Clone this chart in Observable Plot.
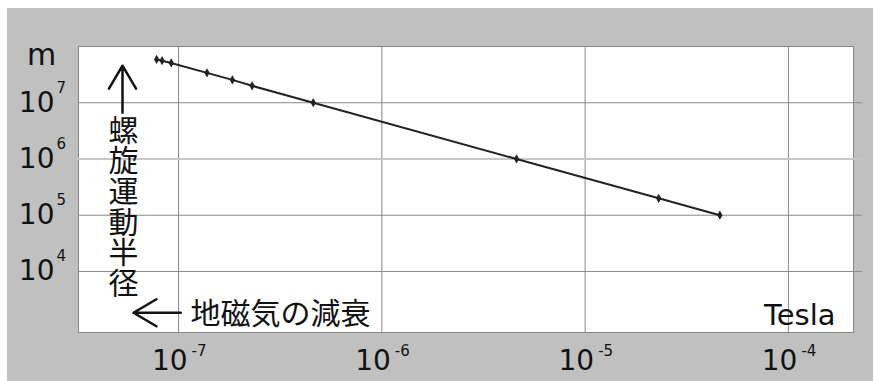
<!DOCTYPE html>
<html>
<head>
<meta charset="utf-8">
<script src="https://cdn.jsdelivr.net/npm/d3@7"></script>
<script src="https://cdn.jsdelivr.net/npm/@observablehq/plot@0.6"></script>
<style>
  html, body { margin: 0; padding: 0; background: white; }
  #wrap { position: relative; width: 876px; height: 381px; overflow: hidden; }
  #bg { position: absolute; left: 7px; top: 8px; width: 866px; height: 373px; background: #c0c0c0; }
  #chart { position: absolute; left: 0; top: 0; }
</style>
</head>
<body>
<div id="wrap"><div id="bg"></div><div id="chart"></div></div>
<script>
// Magnetic field (Tesla) and spiral-motion radius (m)
const fieldB = [7.8e-8, 8.3e-8, 9.2e-8, 1.38e-7, 1.84e-7, 2.3e-7, 4.6e-7, 4.6e-6, 2.3e-5, 4.6e-5];
const radius = [5.9e7, 5.6e7, 5.1e7, 3.4e7, 2.55e7, 2.0e7, 1.0e7, 1.0e6, 2.0e5, 1.0e5];

const xTicks = [1e-7, 1e-6, 1e-5, 1e-4];
const xExps = ["-7", "-6", "-5", "-4"];
const yTicks = [1e4, 1e5, 1e6, 1e7];
const yExps = ["4", "5", "6", "7"];
const xDomain = [3.22e-8, 2.09e-4];
const yDomain = [822, 1e8];

const yUnit = "m";
const xUnit = "Tesla";
const yTitle = "螺旋運動半径";
const xTitle = "地磁気の減衰";
// annotation arrows (data space); the start is trimmed by insetStart
const upArrow = [{x1: 5.3e-8, y1: 7.0e5, x2: 5.3e-8, y2: 4.55e7}];
const leftArrow = [{x1: 1.65e-7, y1: 1845, x2: 6.0e-8, y2: 1845}];

const data = fieldB.map((b, i) => ({b, r: radius[i]}));
const font = "DejaVu Sans, Verdana, sans-serif";
const cjk = "Noto Sans CJK JP, sans-serif";
const ink = "#111";

const chart = Plot.plot({
  width: 876,
  height: 381,
  marginLeft: 78,
  marginRight: 23,
  marginTop: 46,
  marginBottom: 49,
  style: {background: "transparent", overflow: "visible", fontFamily: font, color: ink},
  x: {type: "log", domain: xDomain, axis: null},
  y: {type: "log", domain: yDomain, axis: null},
  marks: [
    Plot.frame({fill: "white", stroke: "#888"}),
    Plot.ruleX(xTicks, {x: d => d, stroke: "#888", strokeWidth: 1}),
    Plot.ruleY(yTicks.filter(d => d !== 1e6), {y: d => d, stroke: "#888", strokeWidth: 1, insetRight: -9}),
    Plot.ruleY(yTicks.filter(d => d === 1e6), {y: d => d, stroke: "#c6c6c6", strokeWidth: 2, insetRight: -9}),
    // x tick labels
    Plot.text(xTicks, {x: d => d, frameAnchor: "bottom", lineAnchor: "middle", text: () => "10", textAnchor: "end", dx: 9, dy: 28.5, fontSize: 28, fill: ink}),
    Plot.text(xTicks, {x: d => d, frameAnchor: "bottom", lineAnchor: "middle", text: (d, i) => xExps[i], textAnchor: "start", dx: 13, dy: 19, fontSize: 15, fill: ink}),
    // y tick labels
    Plot.text(yTicks, {y: d => d, frameAnchor: "left", lineAnchor: "middle", text: () => "10", textAnchor: "end", dx: -24, dy: 0, fontSize: 28, fill: ink}),
    Plot.text(yTicks, {y: d => d, frameAnchor: "left", lineAnchor: "middle", text: (d, i) => yExps[i], textAnchor: "start", dx: -22, dy: -15, fontSize: 15, fill: ink}),
    // units
    Plot.text([yUnit], {frameAnchor: "top-left", lineAnchor: "middle", text: d => d, textAnchor: "middle", dx: -37, dy: 9, fontSize: 30, fill: ink}),
    Plot.text([xUnit], {frameAnchor: "bottom-right", lineAnchor: "middle", text: d => d, textAnchor: "end", dx: -18, dy: -16.5, fontSize: 29, fill: ink}),
    // titles
    Plot.text([yTitle], {frameAnchor: "top-left", text: d => Array.from(d).join("\n"), textAnchor: "middle", lineAnchor: "top", lineHeight: 1.02, dx: 45, dy: 72.5, fontSize: 30, fontFamily: cjk, fill: ink}),
    Plot.text([xTitle], {frameAnchor: "bottom-left", lineAnchor: "middle", text: d => d, textAnchor: "start", dx: 112, dy: -18, fontSize: 30, fontFamily: cjk, fill: ink}),
    Plot.arrow(upArrow, {x1: "x1", y1: "y1", x2: "x2", y2: "y2", stroke: ink, strokeWidth: 2.5, headLength: 16, headAngle: 61, insetStart: 55}),
    Plot.arrow(leftArrow, {x1: "x1", y1: "y1", x2: "x2", y2: "y2", stroke: ink, strokeWidth: 2.5, headLength: 16, headAngle: 61, insetStart: 42}),
    // data
    Plot.line(data, {x: "b", y: "r", stroke: "#222", strokeWidth: 2}),
    Plot.dot(data, {x: "b", y: "r", symbol: "diamond", r: 2.8, fill: "#222", stroke: "none"})
  ]
});
document.getElementById("chart").appendChild(chart);
</script>
</body>
</html>
